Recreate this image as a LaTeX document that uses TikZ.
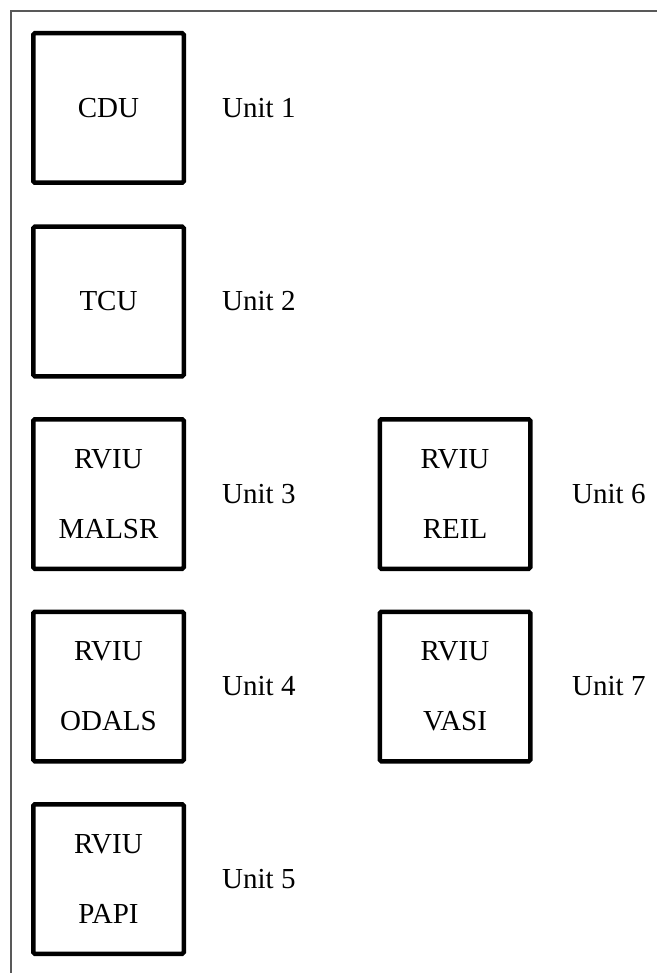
\documentclass[tikz,border=0pt]{standalone}
\usepackage{fontspec}
\setmainfont{Liberation Serif}
\begin{document}
\begin{tikzpicture}[x=1pt,y=-1pt,
  unitbox/.style={draw=black,line width=4.5pt,rounded corners=1.5pt,minimum width=150.5pt,minimum height=149.5pt,inner sep=0pt,align=center,font=\fontsize{29}{70}\selectfont},
  unitlabel/.style={anchor=west,inner sep=0pt,font=\fontsize{29}{34}\selectfont},
  frameline/.style={draw=black!65,line cap=rect}]
\useasboundingbox (0,0) rectangle (656,973);
\draw[frameline,line width=2.5pt] (11,11) -- (660,11);
\draw[frameline,line width=1.2pt] (11,11) -- (11,980);
\node[unitbox] (cdu) at (108.5,108) {CDU};
\node[unitbox] (tcu) at (108.5,301.5) {TCU};
\node[unitbox] (malsr) at (108.5,494) {RVIU\\MALSR};
\node[unitbox] (odals) at (108.5,686.5) {RVIU\\ODALS};
\node[unitbox] (papi) at (108.5,879) {RVIU\\PAPI};
\node[unitbox] (reil) at (455,494) {RVIU\\REIL};
\node[unitbox] (vasi) at (455,686.5) {RVIU\\VASI};
\node[unitlabel] (u1) at (222,108) {Unit 1};
\node[unitlabel] (u2) at (222,301.5) {Unit 2};
\node[unitlabel] (u3) at (222,494) {Unit 3};
\node[unitlabel] (u4) at (222,686.5) {Unit 4};
\node[unitlabel] (u5) at (222,879) {Unit 5};
\node[unitlabel] (u6) at (572,494) {Unit 6};
\node[unitlabel] (u7) at (572,686.5) {Unit 7};
\end{tikzpicture}
\end{document}
